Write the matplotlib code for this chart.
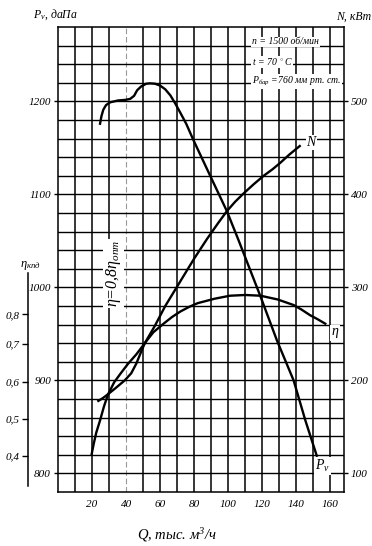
import matplotlib
matplotlib.use("Agg")
import matplotlib.pyplot as plt

plt.rcParams['font.family'] = ['Liberation Serif', 'DejaVu Serif']
plt.rcParams['font.style'] = 'italic'
plt.rcParams['mathtext.fontset'] = 'custom'
plt.rcParams['mathtext.it'] = 'Liberation Serif:italic'
plt.rcParams['mathtext.rm'] = 'Liberation Serif:italic'

# pressure curve, daPa
q_pv = [24.7, 25.5, 26.6, 28.2, 30.6, 35.3, 39.4, 42.4, 44.7, 46.5, 48.8, 51.8, 54, 57, 60,
        63, 66, 68.8, 71.8, 75.3, 79.4, 89.4, 99.2, 106, 119, 128.6, 138.4, 145.3, 152]
pv = [1176, 1184, 1191, 1196, 1199, 1201, 1201.6, 1202.7, 1206, 1212, 1216, 1219, 1219.4, 1219, 1217,
      1213, 1206.5, 1198, 1188, 1176, 1159, 1120, 1082, 1051, 990, 943, 900, 857, 819]

# power, kW
q_n = [19.8, 21, 22.5, 24.7, 27, 29.4, 33, 37, 41.2, 46, 51, 57, 63, 70, 80, 87.5, 94,
       99.2, 104, 109, 115, 120.8, 126, 130.6, 136, 142]
n_kw = [121, 132, 144, 157, 172, 185, 198, 208, 218, 228, 240, 259, 280, 301, 331, 352, 369,
        382, 392, 401, 411, 420, 427, 434, 443, 452]

# efficiency
q_eta = [23.7, 26.5, 29.4, 34, 39.2, 43, 46, 48.5, 51, 56, 62, 67, 72, 77, 82, 92, 101, 110,
         119, 129, 138.4, 143, 148, 152.5, 157]
eta = [0.548, 0.556, 0.566, 0.583, 0.603, 0.622, 0.648, 0.676, 0.703, 0.732, 0.755, 0.773,
       0.788, 0.800, 0.810, 0.822, 0.830, 0.832, 0.830, 0.820, 0.805, 0.793, 0.778, 0.767, 0.755]

x_ticks = [20, 40, 60, 80, 100, 120, 140, 160]
pv_ticks = [800, 900, 1000, 1100, 1200]
n_ticks = [100, 200, 300, 400, 500]
eta_ticks = [0.4, 0.5, 0.6, 0.7, 0.78]
eta_labels = ['0,4', '0,5', '0,6', '0,7', '0,8']
q_dash = 40

fig = plt.figure(figsize=(3.72, 5.46), dpi=100)
ax = fig.add_axes([58/372, 1-492/546, 286/372, 465/546])
ax.set_xlim(0, 168)
ax.set_ylim(780, 1280)

# grid
for q in range(10, 168, 10):
    if q == q_dash:
        ax.axvline(q, color='#999999', lw=0.8, ls=(0, (5, 2.5)), zorder=1)
    else:
        ax.axvline(q, color='black', lw=1.1, zorder=1)
for p in range(800, 1280, 20):
    ax.axhline(p, color='black', lw=1.0, zorder=1)

for s in ax.spines.values():
    s.set_linewidth(1.1)

ax.plot(q_pv, pv, color='black', lw=1.7, zorder=3, solid_joinstyle='round')
ax.set_xticks(x_ticks)
ax.set_xticklabels([str(v) for v in x_ticks], fontsize=8)
ax.tick_params(axis='x', length=0, pad=6)
ax.set_yticks(pv_ticks)
ax.set_yticklabels([str(v) for v in pv_ticks], fontsize=8)
ax.tick_params(axis='y', length=3, width=1, pad=2)

axn = ax.twinx()
axn.set_ylim(80, 580)
axn.plot(q_n, n_kw, color='black', lw=1.7, zorder=3, solid_joinstyle='round')
axn.set_yticks(n_ticks)
axn.set_yticklabels([str(v) for v in n_ticks], fontsize=8)
axn.tick_params(axis='y', length=3, width=1, pad=2)
for s in axn.spines.values():
    s.set_visible(False)

axe = ax.twinx()
axe.set_ylim(0.3037, 1.5506)
axe.plot(q_eta, eta, color='black', lw=1.7, zorder=3, solid_joinstyle='round')
for k in ['right', 'top', 'bottom']:
    axe.spines[k].set_visible(False)
axe.spines['left'].set_position(('axes', -0.105))
axe.spines['left'].set_bounds(0.321, 0.891)
axe.spines['left'].set_linewidth(1.1)
axe.yaxis.set_ticks_position('left')
axe.set_yticks(eta_ticks)
axe.set_yticklabels(eta_labels, fontsize=8)
axe.tick_params(axis='y', length=4, width=1, pad=2)

wb = dict(facecolor='white', edgecolor='none', pad=0.6)
ax.text(146, 1156, 'N', fontsize=10, ha='left', va='center', bbox=wb, zorder=5)
ax.text(160.5, 951, r'$\eta$', fontsize=10, ha='left', va='center', bbox=wb, zorder=5)
ax.text(151, 808, r'$P_v$', fontsize=10, ha='left', va='center', bbox=wb, zorder=5)
ax.text(32.5, 1015, r'$\eta$=0,8$\eta_{опт}$', fontsize=11.5, rotation=90,
        ha='center', va='center', bbox=wb, zorder=5)

ax.text(0.678, 0.968, 'n = 1500 об/мин', transform=ax.transAxes, fontsize=7,
        ha='left', va='center', bbox=wb, zorder=5)
ax.text(0.678, 0.925, r't = 70 $^\circ$C', transform=ax.transAxes, fontsize=7,
        ha='left', va='center', bbox=wb, zorder=5)
ax.text(0.678, 0.882, r'$P_{бар}$ =760 мм рт. ст.', transform=ax.transAxes, fontsize=7,
        ha='left', va='center', bbox=wb, zorder=5)

fig.text(33/372, 1-15/546, r'$P_v$, даПа', fontsize=8.5, ha='left', va='center')
fig.text(371/372, 1-17/546, 'N, кВт', fontsize=8.5, ha='right', va='center')
fig.text(30/372, 1-266/546, r'$\eta_{кпд}$', fontsize=9, ha='center', va='center')
fig.text(177/372, 1-535/546, r'$Q$, тыс. м$^{3}$/ч', fontsize=10.5, ha='center', va='center')

fig.savefig('out.png', dpi=100)
